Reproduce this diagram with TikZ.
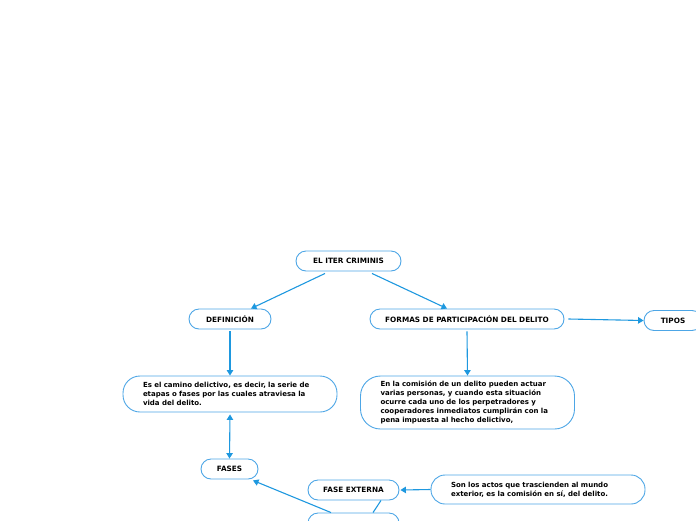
\documentclass[tikz,border=0pt]{standalone}
\usepackage{fontspec}
\setmainfont{DejaVu Sans}
\usepackage{xcolor}
\usetikzlibrary{arrows.meta}
\definecolor{lineblue}{HTML}{1E98DF}
\definecolor{boxblue}{HTML}{4DA6E6}

\begin{document}
\begin{tikzpicture}[x=1pt, y=-1pt,
  topic/.style={draw=boxblue, line width=0.9pt, rounded corners=10pt, fill=white,
                minimum height=20pt, inner sep=0pt, font=\fontsize{7.3}{9}\selectfont\bfseries},
  note/.style={draw=boxblue, line width=0.9pt, rounded corners=17pt, fill=white,
               inner xsep=20pt, inner ysep=0pt, text width=174pt, align=left,
               font=\fontsize{7}{9}\selectfont\bfseries},
  arr/.style={-{Triangle[length=5.5pt,width=6.5pt]}, lineblue, line width=1.1pt},
  dbl/.style={{Triangle[length=5.5pt,width=6.5pt]}-{Triangle[length=5.5pt,width=6.5pt]}, lineblue, line width=1.1pt},
  link/.style={lineblue, line width=1.1pt}
]
  \useasboundingbox (0,0) rectangle (696,520);
  \clip (0,0) rectangle (696,520);

  % Main topic and branches
  \node[topic, minimum width=105pt] (iter) at (348.5,261) {EL ITER CRIMINIS};
  \node[topic, minimum width=82pt] (defi) at (230,319) {DEFINICIÓN};
  \node[topic, minimum width=194pt] (formas) at (467,319) {FORMAS DE PARTICIPACIÓN DEL DELITO};
  \node[topic, minimum width=58pt] (tipos) at (673,320.5) {TIPOS};

  % Notes
  \node[note, minimum height=36pt] (defitext) at (230,394)
    {Es el camino delictivo, es decir, la serie de\\
     etapas o fases por las cuales atraviesa la\\
     vida del delito.};
  \node[note, minimum height=53pt, rounded corners=20pt] (formastext) at (467.5,402.5)
    {En la comisión de un delito pueden actuar\\
     varias personas, y cuando esta situación\\
     ocurre cada uno de los perpetradores y\\
     cooperadores inmediatos cumplirán con la\\
     pena impuesta al hecho delictivo,};

  % Phases
  \node[topic, minimum width=57pt] (fases) at (229.5,469) {FASES};
  \node[topic, minimum width=91pt] (externa) at (353.5,490) {FASE EXTERNA};
  \node[note, minimum height=29pt, rounded corners=14pt] (externatext) at (538,489.5)
    {Son los actos que trascienden al mundo\\
     exterior, es la comisión en sí, del delito.};
  \node[topic, minimum width=91pt] (lower) at (353.5,523) {};

  % Connectors
  \draw[arr] ([xshift=-23.5pt,yshift=-2pt]iter.south) -- ([xshift=21pt]defi.north);
  \draw[arr] ([xshift=23.5pt,yshift=-2pt]iter.south) -- ([xshift=-20pt]formas.north);
  \draw[arr] ([yshift=-2pt]defi.south) -- (defitext.north);
  \draw[arr] ([yshift=-2pt]formas.south) -- (formastext.north);
  \draw[arr] ([xshift=4pt]formas.east) -- (tipos.west);
  \draw[dbl] ([yshift=-2pt]defitext.south) -- (fases.north);
  \draw[arr] (externatext.west) -- ([xshift=1pt]externa.east);
  \draw[arr] ([xshift=-22.5pt]lower.north) -- ([xshift=23.5pt,yshift=-1pt]fases.south);
  \draw[link] ([xshift=27.5pt]externa.south) -- ([xshift=19.5pt]lower.north);
\end{tikzpicture}
\end{document}
